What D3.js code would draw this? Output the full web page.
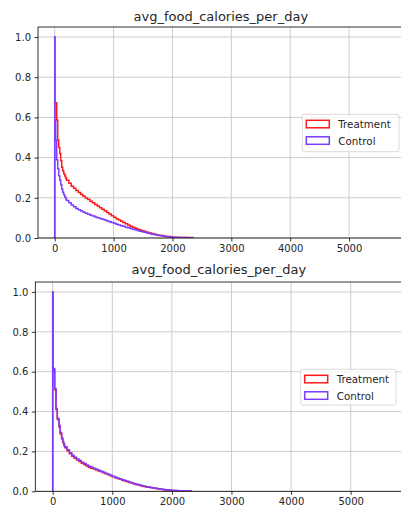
<!DOCTYPE html>
<html>
<head>
<meta charset="utf-8">
<script src="https://cdn.jsdelivr.net/npm/d3@7/dist/d3.min.js"></script>
<style>
  html, body { margin: 0; padding: 0; background: #fff; }
  svg { display: block; }
  text { font-family: "DejaVu Sans", sans-serif; }
</style>
</head>
<body>
<svg id="chart" width="401" height="512"></svg>
<script>
// ---- data -----------------------------------------------------------
const chartTitle = "avg_food_calories_per_day";
const seriesNames = ["Treatment", "Control"];
const xTicks = [0, 1000, 2000, 3000, 4000, 5000];
const yTicks = [0, 0.2, 0.4, 0.6, 0.8, 1.0];

// upper panel: reverse-cumulative step histogram (bin edges + bin values)
const binEdgesTop = [0, 3, 17, 34, 51, 68, 85, 102, 119, 136, 153, 170, 185, 200,
  240, 280, 320, 360, 400, 440, 480, 520, 560, 600, 640, 680, 720, 760, 800, 840, 880, 920, 960, 1000,
  1040, 1080, 1120, 1160, 1200, 1240, 1280, 1320, 1360, 1400, 1440, 1480, 1520, 1560, 1600, 1640,
  1680, 1720, 1760, 1800, 1840, 1880, 1920, 1960, 2000, 2100, 2240, 2350];
const treatmentTop = [1.0, 0.673, 0.673, 0.587, 0.488, 0.45, 0.42, 0.385, 0.352, 0.335, 0.32, 0.308, 0.298,
  0.287, 0.272, 0.258, 0.247, 0.236, 0.226, 0.217, 0.208, 0.199, 0.191,
  0.183, 0.175, 0.167, 0.159, 0.151, 0.143, 0.135, 0.127, 0.119, 0.111,
  0.103, 0.096, 0.089, 0.083, 0.077, 0.071, 0.065, 0.059, 0.054, 0.049,
  0.044, 0.040, 0.036, 0.032, 0.028, 0.025, 0.022, 0.019, 0.016, 0.014,
  0.012, 0.010, 0.008, 0.007, 0.006,
  0.004, 0.003, 0.002];
const controlTop = [1.0, 0.58, 0.487, 0.39, 0.345, 0.31, 0.288, 0.265, 0.243, 0.228, 0.215, 0.205, 0.197,
  0.187, 0.175, 0.164, 0.155, 0.147, 0.140, 0.134, 0.128, 0.123, 0.118,
  0.113, 0.109, 0.105, 0.101, 0.097, 0.093, 0.089, 0.085, 0.081, 0.077,
  0.073, 0.069, 0.065, 0.061, 0.058, 0.054, 0.051, 0.047, 0.044, 0.041,
  0.037, 0.034, 0.031, 0.028, 0.025, 0.022, 0.019, 0.017, 0.015, 0.013,
  0.011, 0.009, 0.007, 0.006, 0.005,
  0.003, 0.002, 0];

// lower panel
const binEdgesBottom = [0, 4, 33, 55, 77, 105, 125, 150, 170, 185, 200,
  240, 280, 320, 360, 400, 440, 480, 520, 560, 600, 640, 680, 720, 760, 800, 840, 880, 920, 960, 1000,
  1040, 1080, 1120, 1160, 1200, 1240, 1280, 1320, 1360, 1400, 1440, 1480, 1520, 1560, 1600, 1640,
  1680, 1720, 1760, 1800, 1840, 1880, 1920, 1960, 2000, 2100, 2200, 2300, 2330];
const treatmentBottom = [1.0, 0.61, 0.51, 0.41, 0.36, 0.322, 0.288, 0.262, 0.244, 0.231,
  0.219, 0.203, 0.189, 0.176, 0.166, 0.157, 0.149, 0.141, 0.134, 0.127,
  0.121, 0.116, 0.112, 0.107, 0.102, 0.098, 0.093, 0.088, 0.083, 0.078,
  0.073, 0.068, 0.064, 0.060, 0.056, 0.052, 0.048, 0.044, 0.040, 0.036,
  0.033, 0.030, 0.027, 0.024, 0.022, 0.020, 0.018, 0.016, 0.014, 0.012,
  0.010, 0.009, 0.007, 0.006, 0.005,
  0.004, 0.003, 0.002, 0.002];
const controlBottom = [1.0, 0.616, 0.516, 0.416, 0.366, 0.33, 0.295, 0.268, 0.25, 0.237,
  0.224, 0.208, 0.194, 0.181, 0.171, 0.162, 0.154, 0.146, 0.139, 0.132,
  0.126, 0.121, 0.116, 0.111, 0.106, 0.101, 0.096, 0.091, 0.086, 0.081,
  0.076, 0.071, 0.066, 0.062, 0.058, 0.054, 0.050, 0.046, 0.042, 0.038,
  0.035, 0.032, 0.029, 0.026, 0.023, 0.021, 0.019, 0.017, 0.015, 0.013,
  0.011, 0.009, 0.008, 0.007, 0.006,
  0.004, 0.003, 0.002, 0];

// axis limits (data units)
const xLimTop = [-284, 5960];
const xLimBottom = [-292, 6130];
const yLim = [0, 1.05];

// ---- styling / layout ------------------------------------------------
const colors = { Treatment: "#ff1a1a", Control: "#7a3cff" };

const panels = [
  {
    edges: binEdgesTop, series: { Treatment: treatmentTop, Control: controlTop }, xLim: xLimTop,
    box: { left: 38, top: 27, right: 405.6, bottom: 238 },
    titleX: 220.8, titleY: 20.5,
    legend: { x: 302.3, y: 114.3, w: 96.7, h: 37.4 }
  },
  {
    edges: binEdgesBottom, series: { Treatment: treatmentBottom, Control: controlBottom }, xLim: xLimBottom,
    box: { left: 35.3, top: 282, right: 418, bottom: 491.3 },
    titleX: 218.8, titleY: 274,
    legend: { x: 300.7, y: 369.3, w: 95.3, h: 35.7 }
  }
];

const svg = d3.select("#chart");

panels.forEach((p, i) => {
  const b = p.box;
  const x = d3.scaleLinear().domain(p.xLim).range([b.left, b.right]);
  const y = d3.scaleLinear().domain(yLim).range([b.bottom, b.top]);
  const g = svg.append("g");

  const clipId = "clip" + i;
  g.append("clipPath").attr("id", clipId)
    .append("rect")
    .attr("x", b.left).attr("y", b.top)
    .attr("width", b.right - b.left).attr("height", b.bottom - b.top);

  // grid
  g.append("g").selectAll("line").data(xTicks).join("line")
    .attr("x1", d => x(d)).attr("x2", d => x(d))
    .attr("y1", b.top).attr("y2", b.bottom)
    .attr("stroke", "#cccccc").attr("stroke-width", 1);
  g.append("g").selectAll("line").data(yTicks).join("line")
    .attr("x1", b.left).attr("x2", b.right)
    .attr("y1", d => y(d)).attr("y2", d => y(d))
    .attr("stroke", "#cccccc").attr("stroke-width", 1);

  // step outlines
  const line = d3.line().x(d => x(d[0])).y(d => y(d[1])).curve(d3.curveStepAfter);
  const plotG = g.append("g").attr("clip-path", `url(#${clipId})`);
  seriesNames.forEach(name => {
    const vals = p.series[name];
    const e = p.edges;
    const pts = [[e[0], 0]];
    vals.forEach((v, k) => pts.push([e[k], v]));
    pts.push([e[e.length - 1], vals[vals.length - 1]]);
    pts.push([e[e.length - 1], 0]);
    plotG.append("path")
      .attr("d", line(pts))
      .attr("fill", "none")
      .attr("stroke", colors[name])
      .attr("stroke-width", 1.5)
      .attr("stroke-linejoin", "miter");
  });

  // axes
  const xAxis = d3.axisBottom(x).tickValues(xTicks).tickFormat(d3.format("d"))
    .tickSize(3.5).tickPadding(3.5);
  const yAxis = d3.axisLeft(y).tickValues(yTicks).tickFormat(d3.format(".1f"))
    .tickSize(3.5).tickPadding(3.5);

  const gx = g.append("g").attr("transform", `translate(0,${b.bottom})`).call(xAxis);
  const gy = g.append("g").attr("transform", `translate(${b.left},0)`).call(yAxis);
  [gx, gy].forEach(ax => {
    ax.select(".domain").remove();
    ax.selectAll(".tick line").attr("stroke", "#000").attr("stroke-width", 0.8);
    ax.selectAll(".tick text").attr("fill", "#262626")
      .style("font-family", "DejaVu Sans").style("font-size", "10px");
  });

  // frame
  g.append("rect")
    .attr("x", b.left).attr("y", b.top)
    .attr("width", b.right - b.left).attr("height", b.bottom - b.top)
    .attr("fill", "none").attr("stroke", "#000").attr("stroke-width", 0.8);

  // title
  g.append("text")
    .attr("x", p.titleX).attr("y", p.titleY)
    .attr("text-anchor", "middle")
    .attr("fill", "#262626")
    .style("font-size", "13px")
    .text(chartTitle);

  // legend
  const L = p.legend;
  const lg = g.append("g");
  lg.append("rect")
    .attr("x", L.x).attr("y", L.y).attr("width", L.w).attr("height", L.h)
    .attr("rx", 2).attr("fill", "#fff").attr("fill-opacity", 0.8)
    .attr("stroke", "#d0d0d0").attr("stroke-width", 0.8);
  seriesNames.forEach((name, k) => {
    const rowY = L.y + 6 + k * 16.5;
    lg.append("rect")
      .attr("x", L.x + 4).attr("y", rowY)
      .attr("width", 23).attr("height", 7.5)
      .attr("fill", "none").attr("stroke", colors[name]).attr("stroke-width", 1.5);
    lg.append("text")
      .attr("x", L.x + 36).attr("y", rowY + 8)
      .attr("fill", "#262626")
      .style("font-size", "10.3px")
      .text(name);
  });
});
</script>
</body>
</html>
